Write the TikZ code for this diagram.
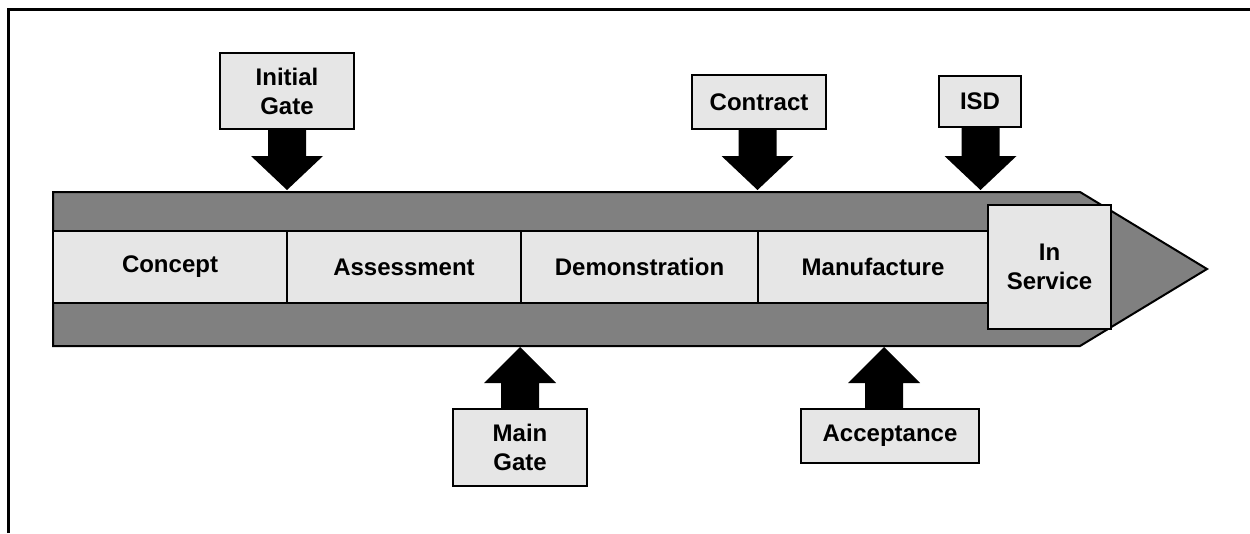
\documentclass[tikz,border=0pt]{standalone}
\usepackage{fontspec}
\setmainfont{Liberation Sans}
\usetikzlibrary{calc}
\definecolor{bardark}{HTML}{808080}
\definecolor{boxlight}{HTML}{E6E6E6}
\tikzset{
  gatebox/.style={draw=black, line width=2pt, fill=boxlight, align=center,
    inner sep=0pt, font=\fontsize{24}{29}\selectfont\bfseries},
  phasebox/.style={draw=black, line width=2pt, fill=boxlight, align=center,
    inner sep=0pt, minimum height=72pt, font=\fontsize{24}{29}\selectfont\bfseries},
  blockarrow/.style={fill=black, draw=none}
}
\newcommand\blockdown[2]{%
  \path[blockarrow] let \p1=(#2), \p2=(#1.south) in
    (\x1-19pt,\y2) -- (\x1+19pt,\y2) -- (\x1+19pt,\y1+34pt) -- (\x1+36pt,\y1+34pt)
    -- (\x1,\y1) -- (\x1-36pt,\y1+34pt) -- (\x1-19pt,\y1+34pt) -- cycle;}
\newcommand\blockup[2]{%
  \path[blockarrow] let \p1=(#2), \p2=(#1.north) in
    (\x1-19pt,\y2) -- (\x1+19pt,\y2) -- (\x1+19pt,\y1-36pt) -- (\x1+36pt,\y1-36pt)
    -- (\x1,\y1) -- (\x1-36pt,\y1-36pt) -- (\x1-19pt,\y1-36pt) -- cycle;}
\begin{document}
\begin{tikzpicture}[x=1pt,y=-1pt]
\useasboundingbox (0,0) rectangle (1250,533);
% frame (only top and left edges visible)
\draw[line width=3pt] (8,533) -- (8,9) -- (1250,9);
% main bar
\draw[line width=2pt, fill=bardark, line join=miter]
  (53,192) -- (1080,192) -- (1207,269) -- (1080,346) -- (53,346) -- cycle;
% phases
\node[phasebox, minimum width=234pt] (concept) at (170,267) {Concept};
\node[phasebox, minimum width=234pt] (assess) at (404,267) {Assessment};
\node[phasebox, minimum width=237pt] (demo) at (639.5,267) {Demonstration};
\node[phasebox, minimum width=230pt] (manuf) at (873,267) {Manufacture};
\node[gatebox, minimum width=123pt, minimum height=124pt] (inservice) at (1049.5,267) {In\\Service};
% tip coordinates on the bar
\coordinate (tipIG) at (287,190);
\coordinate (tipCT) at (757.5,190);
\coordinate (tipISD) at (980.5,190);
\coordinate (tipMG) at (520,347);
\coordinate (tipAC) at (884,347);
% gate boxes
\node[gatebox, minimum width=134pt, minimum height=76pt] (ig) at (287,91) {Initial\\Gate};
\node[gatebox, minimum width=134pt, minimum height=54pt] (ct) at (759,102) {Contract};
\node[gatebox, minimum width=82pt, minimum height=51pt] (isd) at (980,101.5) {ISD};
\node[gatebox, minimum width=134pt, minimum height=77pt] (mg) at (520,447.5) {Main\\Gate};
\node[gatebox, minimum width=178pt, minimum height=54pt] (ac) at (890,436) {Acceptance};
% block arrows
\blockdown{ig}{tipIG}
\blockdown{ct}{tipCT}
\blockdown{isd}{tipISD}
\blockup{mg}{tipMG}
\blockup{ac}{tipAC}
\end{tikzpicture}
\end{document}
